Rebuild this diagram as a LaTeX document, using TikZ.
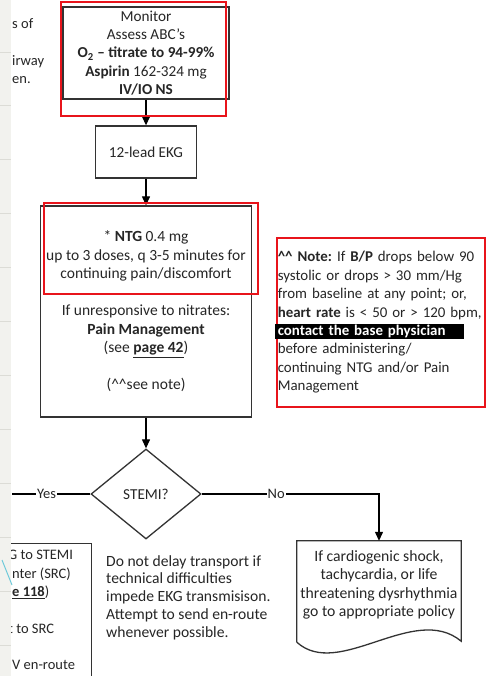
\documentclass[tikz,border=0pt]{standalone}
\usepackage{fontspec}
\setmainfont{Carlito}
\frenchspacing
\usetikzlibrary{positioning, shapes.geometric, arrows.meta}
\definecolor{boxline}{HTML}{333333}
\definecolor{markred}{HTML}{E8141B}
\definecolor{strip}{HTML}{F2F2EE}
\definecolor{stripline}{HTML}{DCDCD6}
\definecolor{pencyan}{HTML}{6CC9D9}

\begin{document}
\begin{tikzpicture}[x=1pt, y=-1pt, node distance=100pt, on grid,
		every node/.style={font=\fontsize{14.5}{18.4}\selectfont, text=black!85},
		block/.style={draw=boxline, line width=1.3pt, align=center, inner sep=0pt},
		decision/.style={diamond, draw=boxline, line width=1.3pt, minimum width=110pt, minimum height=90pt, inner sep=0pt, aspect=1.22},
		redbox/.style={draw=markred, line width=1.6pt},
		lbl/.style={fill=white, inner sep=1pt},
		flow/.style={line width=1.2pt},
		>={Triangle[width=8pt, length=9pt]}]
			\clip (0,0) rectangle (487,676);
			\fill[white] (0,0) rectangle (487,676);

			\node[block, minimum width=166pt, minimum height=92pt, font=\fontsize{15.2}{18.3}\selectfont] (0) at (146,53) {Monitor\\Assess ABC’s\\\textbf{O\textsubscript{2} – titrate to 94-99\%}\\\textbf{Aspirin} 162-324 mg\\\textbf{IV/IO NS}};
			\node[block, minimum width=101pt, minimum height=52pt, below=99pt of 0, font=\fontsize{15.2}{18.3}\selectfont] (1) {12-lead EKG};
			\node[block, minimum width=211pt, minimum height=211pt, below=159.5pt of 1, font=\fontsize{15.5}{18.5}\selectfont] (2) {* \textbf{NTG} 0.4 mg\\up to 3 doses, q 3-5 minutes for\\continuing pain/discomfort\\[18.5pt]If unresponsive to nitrates:\\\textbf{Pain Management}\\(see \underline{\textbf{page 42}})\\[18.5pt](\textasciicircum\textasciicircum see note)};
			\node[decision, below=182.5pt of 2, font=\fontsize{15.2}{18.3}\selectfont] (3) {STEMI?};
			\node[align=center, minimum width=164pt, minimum height=88pt, inner sep=0pt, below right=91pt and 233pt of 3, font=\fontsize{15.7}{18.4}\selectfont] (4) {If cardiogenic shock,\\tachycardia, or life\\threatening dysrhythmia\\go to appropriate policy};
			\node[draw=boxline, line width=1.3pt, anchor=north east, minimum width=120pt, minimum height=160pt] (5) at (92,543) {};
			\node[anchor=north west, align=left, inner sep=0pt] (6) at (12,550) {\hspace*{-4pt}G to STEMI\\nter (SRC)\\\underline{\textbf{e 118}})\\[18.8pt]\hspace*{-4pt}t to SRC\\[17.6pt]V en-route};
			\node[redbox, anchor=north west, text width=206pt, inner xsep=1pt, inner ysep=0pt, minimum height=169pt, align=left, font=\fontsize{14.9}{18.4}\selectfont] (7) at (276,237) {\textbf{\textasciicircum\textasciicircum{} Note:} If \textbf{B/P} drops below 90\\systolic or drops > 30 mm/Hg\\from baseline at any point; or,\\\textbf{heart rate} is < 50 or > 120 bpm,\\\hspace*{-3pt}{\setlength{\fboxsep}{1pt}\colorbox{black}{\hspace{2pt}\textcolor{white}{\textbf{contact the base physician}}\hspace{17pt}}}\\before administering/\\continuing NTG and/or Pain\\Management};
			\node[anchor=north west, align=left, inner sep=0pt, font=\fontsize{15.6}{17.8}\selectfont] (8) at (106,555) {Do not delay transport if\\technical difficulties\\impede EKG transmisison.\\Attempt to send en-route\\whenever possible.};
			\node[anchor=north west, align=left, inner sep=0pt] (9) at (12,18) {s of\\[18.6pt]irway\\en.};

			\draw[boxline, line width=1.3pt] ([yshift=-13pt]4.south west) -- (4.north west) -- (4.north east) -- ([yshift=-12pt]4.south east) .. controls +(-47,-39) and +(42,38) .. ([yshift=-13pt]4.south west);

			\coordinate (10) at (12,494);
			\draw[->, flow] (0) edge (1)
			(1) edge (2)
			(2) edge (3);
			\draw[flow] (3.west) -- node[lbl, pos=0.56] {Yes} (10);
			\draw[->, flow] (3.east) -| node[lbl, pos=0.21] {No} (4.north);

			\draw[redbox] (61,2) rectangle (226,116);
			\draw[redbox] (44,203) rectangle (258,294);

			\fill[strip] (0,0) rectangle (11,676);
			\foreach \i in {0,...,11}
				\draw[stripline, line width=0.8pt] (0,52+53.9*\i) -- (11,52+53.9*\i);
			\draw[pencyan, line width=1pt] (2,560) -- (12,585);
		\end{tikzpicture}
\end{document}
